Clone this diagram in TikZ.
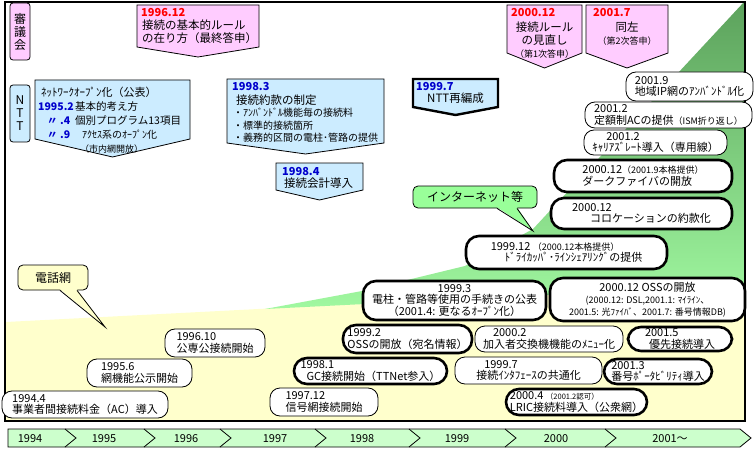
\documentclass[tikz,border=0pt]{standalone}
\usepackage{fontspec}
\setmainfont{Noto Sans CJK JP}
\usetikzlibrary{positioning}

\definecolor{pinkbox}{RGB}{255,204,255}
\definecolor{bluebox}{RGB}{204,236,255}
\definecolor{telyellow}{RGB}{255,255,204}
\definecolor{netgreen}{RGB}{153,255,153}
\definecolor{bargreen}{RGB}{204,255,204}
\definecolor{hilldark}{RGB}{92,162,92}
\definecolor{hilllight}{RGB}{160,248,160}
\definecolor{yrred}{RGB}{255,0,0}
\definecolor{yrblue}{RGB}{0,0,204}

\newcommand{\byr}[1]{{\bfseries\color{yrblue}#1}}
\newcommand{\smallfont}{\fontsize{9}{10}\selectfont}
\newcommand{\tinyfont}{\fontsize{7.5}{9}\selectfont}
% box with a downward point: fill, left, top, right, bottom, tip
\newcommand{\dnarrow}[7][]{%
  \draw[fill=#2, line width=0.8pt, #1] (#3,#4) -- (#5,#4) -- (#5,#6) -- ({(#3+#5)/2},#7) -- (#3,#6) -- cycle;}

\begin{document}
\begin{tikzpicture}[x=1pt, y=-1pt,
    bub/.style={draw, fill=white, line width=0.8pt, rounded corners=10pt, inner xsep=1pt, inner ysep=0.5pt, align=left, font=\fontsize{11}{11.8}\selectfont},
    bubthick/.style={bub, line width=2.6pt, rounded corners=13pt},
    bubsize/.style 2 args={minimum width=#1pt, minimum height=#2pt},
    yrlbl/.style={inner sep=0pt, anchor=north west, font=\bfseries\fontsize{11}{12}\selectfont},
    boxtxt/.style={inner sep=0pt, align=left, font=\fontsize{11.5}{13}\selectfont},
    sidelbl/.style={draw, line width=0.8pt, rounded corners=3pt, minimum width=20pt, inner sep=0pt, align=center, font=\fontsize{12}{13}\selectfont},
    balloon/.style={draw, line width=0.8pt, rounded corners=5pt, inner sep=0pt, font=\fontsize{12}{13}\selectfont}]

  \useasboundingbox (0,0) rectangle (756,452);

  % background areas
  \fill[white] (5,2) rectangle (745,421);
  \fill[telyellow] (6,322) -- (744,284) -- (744,420) -- (6,420) -- cycle;
  \shade[top color=hilldark, bottom color=hilllight] (265,309) -- (362,291) -- (465,266) -- (533,229) -- (744,2) -- (744,285) -- cycle;
  \draw[line width=2pt] (5,2) rectangle (745,421);

  % side labels
  \node[sidelbl, fill=pinkbox, minimum height=57pt] (shingikai) at (20,31.5) {審\\議\\会};
  \node[sidelbl, fill=bluebox, minimum height=57pt] (ntt) at (20,113.5) {N\\T\\T};

  % council reports
  \dnarrow{pinkbox}{137}{5}{259}{47}{57}
  \node[yrlbl, text=yrred] (rep96) at (141,8) {1996.12};
  \node[boxtxt, anchor=north west] (rep96txt) at (142,20) {接続の基本的ルール\\の在り方（最終答申）};

  \dnarrow{pinkbox}{507}{5}{582}{53}{68}
  \node[yrlbl, text=yrred] (rep00) at (511,8) {2000.12};
  \node[boxtxt, align=center, anchor=north] (rep00txt) at (544.5,22) {接続ルール\\の見直し\\{\smallfont （第1次答申）}};

  \dnarrow{pinkbox}{586}{5}{668}{53}{68}
  \node[yrlbl, text=yrred] (rep01) at (593,8) {2001.7};
  \node[boxtxt, align=center, anchor=north] (rep01txt) at (627,22) {同左\\{\smallfont （第2次答申）}};

  % NTT
  \dnarrow{bluebox}{35}{80}{190}{139}{157}
  \node[boxtxt, anchor=north west, font=\fontsize{10.5}{14}\selectfont] (open95) at (38,87) {%
    \hspace*{3pt}{\fontsize{11}{14}\selectfont ﾈｯﾄﾜｰｸｵｰﾌﾟﾝ化（公表）}\\
    \makebox[32pt][l]{\byr{1995.2}}\hspace{5pt}基本的考え方\\
    \makebox[32pt][r]{\byr{〃\ .4}}\hspace{5pt}個別プログラム13項目\\
    \makebox[32pt][r]{\byr{〃\ .9}}\hspace{12pt}{\fontsize{10}{14}\selectfont ｱｸｾｽ系のｵｰﾌﾟﾝ化}\\
    \hspace*{42pt}{\smallfont （市内網開放）}};

  \dnarrow{bluebox}{227}{79}{384}{143}{154}
  \node[yrlbl, text=yrblue] (yakkan98) at (232,82) {1998.3};
  \node[boxtxt, anchor=north west] (yakkan98txt) at (236,95) {接続約款の制定};
  \node[boxtxt, anchor=north west, font=\fontsize{10}{12.5}\selectfont] (yakkan98list) at (233,108) {・ｱﾝﾊﾞﾝﾄﾞﾙ機能毎の接続料\\・標準的接続箇所\\・義務的区間の電柱･管路の提供};

  \dnarrow{bluebox}{276}{163}{363}{190}{200}
  \node[yrlbl, text=yrblue] (kaikei98) at (282,167) {1998.4};
  \node[boxtxt, anchor=north west] (kaikei98txt) at (284,178) {接続会計導入};

  \dnarrow[line width=2.4pt]{bluebox}{413}{79}{498}{107}{115}
  \node[yrlbl, text=yrblue] (saihen99) at (416,82) {1999.7};
  \node[boxtxt, anchor=north west] (saihen99txt) at (427,93) {NTT再編成};

  % balloons
  \node[balloon, fill=telyellow, minimum width=70pt, minimum height=25pt] (telnet) at (53,277.5) {電話網};
  \coordinate (telnettip) at (105,327);
  \fill[telyellow] ([xshift=7pt,yshift=1.2pt]telnet.south) -- (telnettip) -- ([xshift=24pt,yshift=1.2pt]telnet.south) -- cycle;
  \draw[line width=0.8pt] ([xshift=7pt]telnet.south) -- (telnettip) -- ([xshift=24pt]telnet.south);

  \node[balloon, fill=netgreen, minimum width=124pt, minimum height=22pt] (inet) at (475,197) {インターネット等};
  \coordinate (inettip) at (533,231);
  \fill[netgreen] ([xshift=22pt,yshift=1.2pt]inet.south) -- (inettip) -- ([xshift=42pt,yshift=1.2pt]inet.south) -- cycle;
  \draw[line width=0.8pt] ([xshift=22pt]inet.south) -- (inettip) -- ([xshift=42pt]inet.south);

  % events
  \node[bub, bubsize={127}{29}] (ipunb) at (689.5,86.5) {2001.9\\地域IP網のｱﾝﾊﾞﾝﾄﾞﾙ化};
  \node[bub, bubsize={167}{26}] (flatac) at (668.5,115) {2001.2\\定額制ACの提供{\smallfont（ISM折り返し）}};
  \node[bub, bubsize={143}{25}] (carrier) at (655.5,142.5) {\hspace*{14pt}2001.2\\ｷｬﾘｱｽﾞﾚｰﾄ導入（専用線）};
  \node[bubthick, bubsize={178}{32}] (darkfiber) at (643,176) {2000.12{\smallfont（2001.9本格提供）}\\ダークファイバの開放};
  \node[bubthick, bubsize={181}{31}] (coloc) at (641.5,213.5) {2000.12\\\hspace*{18pt}コロケーションの約款化};
  \node[bubthick, bubsize={201}{33}] (dryc) at (566.5,252.5) {1999.12 {\smallfont（2000.12本格提供）}\\\hspace*{14pt}ﾄﾞﾗｲｶｯﾊﾟ･ﾗｲﾝｼｪｱﾘﾝｸﾞの提供};
  \node[bubthick, bubsize={183}{39}, align=center] (pole) at (454.5,300.5) {1999.3\\電柱・管路等使用の手続きの公表\\（2001.4: 更なるｵｰﾌﾟﾝ化）};
  \node[bubthick, bubsize={195}{43}, align=center] (ossopen) at (647.5,299.5) {2000.12 OSSの開放\\{\smallfont (2000.12: DSL,2001.1: ﾏｲﾗｲﾝ、}\\{\smallfont 2001.5: 光ﾌｧｲﾊﾞ、2001.7: 番号情報DB)}};
  \node[bubthick, bubsize={129}{28}] (ossname) at (407.5,339) {1999.2\\OSSの開放（宛名情報）};
  \node[bub, bubsize={148}{26}] (menu) at (549,339) {\hspace*{10pt}2000.2\\加入者交換機機能のﾒﾆｭｰ化};
  \node[bubthick, bubsize={104}{24}] (prefix) at (680,339) {2001.5\\\hspace*{4pt}優先接続導入};
  \node[bubthick, bubsize={153}{26}] (gc) at (370.5,371) {1998.1\\\hspace*{6pt}GC接続開始（TTNet参入）};
  \node[bub, bubsize={147}{27}] (iface) at (528.5,370.5) {\hspace*{8pt}1999.7\\接続ｲﾝﾀﾌｪｰｽの共通化};
  \node[bubthick, bubsize={108}{25}] (mnp) at (658,371.5) {2001.3\\番号ﾎﾟｰﾀﾋﾞﾘﾃｨ導入};
  \node[bub, bubsize={108}{28}] (signal) at (324,402) {1997.12\\信号網接続開始};
  \node[bubthick, bubsize={141}{26}] (lric) at (576.5,402) {2000.4 {\tinyfont（2001.2認可）}\\LRIC接続料導入（公衆網）};
  \node[bub, bubsize={100}{28}] (pspub) at (215,343) {1996.10\\公専公接続開始};
  \node[bub, bubsize={105}{28}] (netfunc) at (139.5,373) {1995.6\\網機能公示開始};
  \node[bub, bubsize={166}{27}] (ac94) at (85,404.5) {1994.4\\事業者間接続料金（AC）導入};

  % timeline
  \draw[fill=bargreen, line width=0.8pt] (8,429) -- (740,429) -- (751,438) -- (740,447) -- (8,447) -- cycle;
  \foreach \b in {76,155,231,326,420,516,616}
    \draw[line width=0.8pt] (\b-11,429) -- (\b,438) -- (\b-11,447);
  \foreach \x/\yrtext [count=\i] in {30/1994,104/1995,186/1996,275/1997,362/1998,457/1999,556/2000,670/2001～}
    \node[font=\fontsize{11}{12}\selectfont] (year\i) at (\x,438.5) {\yrtext};
\end{tikzpicture}
\end{document}
